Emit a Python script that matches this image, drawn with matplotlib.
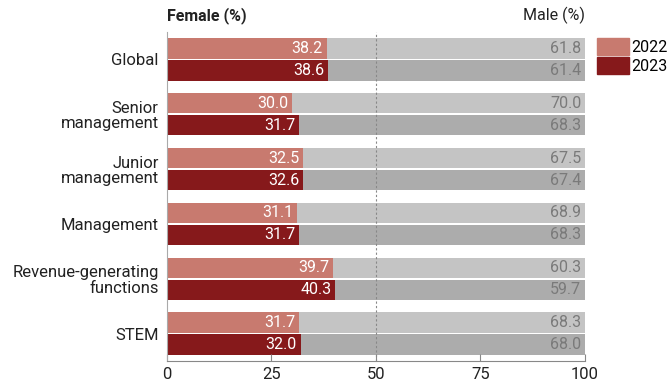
import matplotlib
matplotlib.use('agg')
import matplotlib.pyplot as plt
import numpy as np
from matplotlib.patches import Patch

plt.rcParams['font.family'] = ['Roboto', 'DejaVu Sans']

categories = ["Global", "Senior\nmanagement", "Junior\nmanagement",
              "Management", "Revenue-generating\nfunctions", "STEM"]
female_2022 = [38.2, 30.0, 32.5, 31.1, 39.7, 31.7]
female_2023 = [38.6, 31.7, 32.6, 31.7, 40.3, 32.0]
male_2022 = [61.8, 70.0, 67.5, 68.9, 60.3, 68.3]
male_2023 = [61.4, 68.3, 67.4, 68.3, 59.7, 68.0]
years = ["2022", "2023"]

c_f22 = "#c87a6f"
c_f23 = "#86191b"
c_m22 = "#c4c4c4"
c_m23 = "#acacac"

fig = plt.figure(figsize=(6.69, 3.83), dpi=100)
ax = fig.add_axes([0.2496, 0.0574, 0.6248, 0.859])

y = np.arange(len(categories))
h = 0.37
off = 0.2

f22 = np.array(female_2022)
f23 = np.array(female_2023)
m22 = np.array(male_2022)
m23 = np.array(male_2023)

ax.barh(y - off, f22, height=h, color=c_f22)
ax.barh(y - off, m22, left=f22, height=h, color=c_m22)
ax.barh(y + off, f23, height=h, color=c_f23)
ax.barh(y + off, m23, left=f23, height=h, color=c_m23)

ax.axvline(50, color="#888888", ls=(0, (2, 2)), lw=0.8, zorder=3)

for i in range(len(categories)):
    ax.text(f22[i] - 0.9, y[i] - off, f"{f22[i]:.1f}", ha="right", va="center",
            color="white", fontsize=11.5)
    ax.text(f23[i] - 0.9, y[i] + off, f"{f23[i]:.1f}", ha="right", va="center",
            color="white", fontsize=11.5)
    ax.text(99.1, y[i] - off, f"{m22[i]:.1f}", ha="right", va="center",
            color="#7a7a7a", fontsize=11.5)
    ax.text(99.1, y[i] + off, f"{m23[i]:.1f}", ha="right", va="center",
            color="#7a7a7a", fontsize=11.5)

ax.set_xlim(0, 100)
ax.set_ylim(len(categories) - 0.5, -0.5)
ax.set_yticks(y)
ax.set_yticklabels(categories, fontsize=12, color="#222222", linespacing=1.05)
ax.set_xticks([0, 25, 50, 75, 100])
ax.tick_params(axis="x", direction="in", length=5, color="#888888",
               labelsize=12, labelcolor="#222222", pad=4)
ax.tick_params(axis="y", length=0, pad=6)

for s in ["top", "right"]:
    ax.spines[s].set_visible(False)
ax.spines["left"].set_color("#aaaaaa")
ax.spines["bottom"].set_color("#888888")

ax.text(0, 1.025, "Female (%)", transform=ax.transAxes, ha="left", va="bottom",
        fontsize=11.5, fontweight="bold", color="#222222")
ax.text(1.0, 1.025, "Male (%)", transform=ax.transAxes, ha="right", va="bottom",
        fontsize=11.5, color="#222222")

handles = [Patch(color=c_f22), Patch(color=c_f23)]
ax.legend(handles, years, loc="upper left", bbox_to_anchor=(1.0288, 0.982),
          frameon=False, handlelength=2.0, handleheight=1.3, handletextpad=0.15,
          labelspacing=0.08, fontsize=11.5, borderaxespad=0, borderpad=0)

fig.savefig("out.png", dpi=100)
